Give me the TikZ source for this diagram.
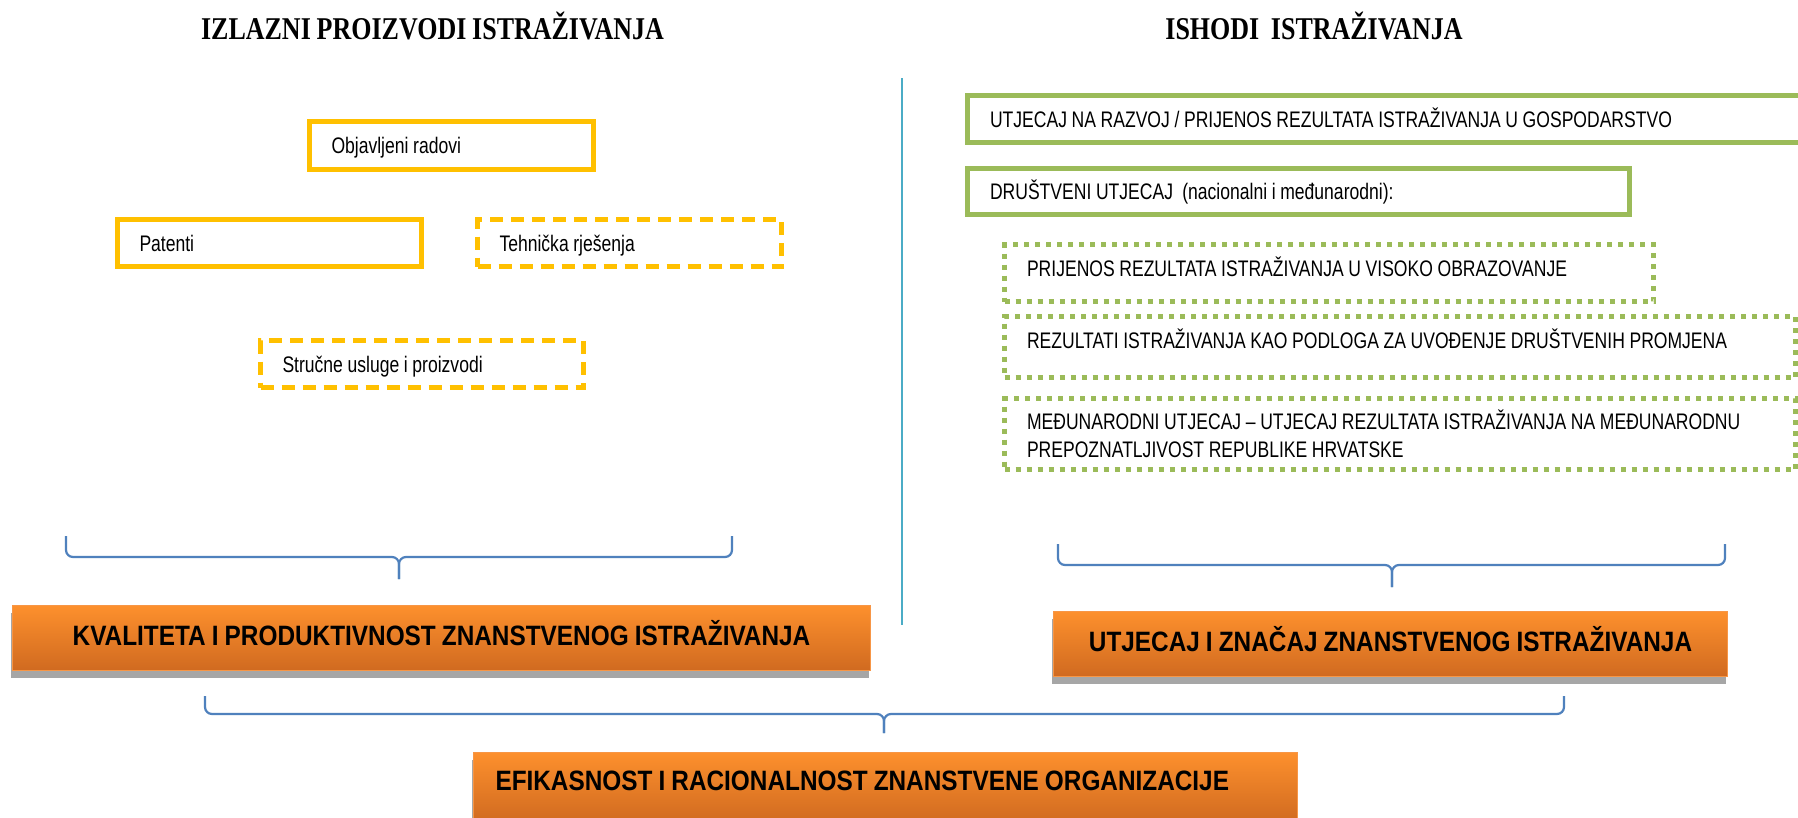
\documentclass[tikz,border=0pt]{standalone}
\usepackage{fontspec}
\usetikzlibrary{shadows}
\newfontfamily\boxfont[FakeStretch=0.78,WordSpace=0.95]{Liberation Sans}
\newfontfamily\bandfont[FakeStretch=0.87,WordSpace=0.9]{Liberation Sans}
\newfontfamily\headfont[FakeStretch=0.82,WordSpace=0.9]{Liberation Serif}
\newcommand{\boxtext}{\boxfont\fontsize{22.5}{28}\selectfont}
\definecolor{gold}{RGB}{255,192,0}
\definecolor{leaf}{RGB}{155,187,89}
\definecolor{bracec}{RGB}{79,129,189}
\definecolor{sepc}{RGB}{75,172,198}
\definecolor{orangetop}{RGB}{253,144,45}
\definecolor{orangemid}{RGB}{242,130,38}
\definecolor{orangebot}{RGB}{208,106,32}
\definecolor{orangeedge}{RGB}{247,150,70}
\definecolor{shadowc}{RGB}{166,166,166}

\tikzset{
	fontspace/.style={execute at begin node={\spaceskip=0pt\relax\xspaceskip=0pt\relax}},
	head/.style={font=\headfont\bfseries\fontsize{31.7}{36}\selectfont, inner sep=0pt, anchor=base},
	goldbox/.style={draw=gold, line width=5pt, anchor=north west, inner xsep=22pt, inner ysep=0pt,
		align=left, fontspace, text height=16pt, text depth=0pt, font=\boxtext},
	leafbox/.style={draw=leaf, line width=5pt, anchor=north west, inner xsep=22.5pt, inner ysep=0pt,
		align=left, fontspace, font=\boxtext},
	oneline/.style={text height=16pt, text depth=#1},
	oneline/.default=0pt,
	dashedline/.style={dash pattern=on 13pt off 8pt},
	dottedline/.style={dash pattern=on 5pt off 6pt},
	band/.style={draw=orangeedge, line width=1pt, anchor=north west, inner sep=0pt,
		top color=orangetop, middle color=orangemid, bottom color=orangebot,
		drop shadow={shadow xshift=-2pt, shadow yshift=-7pt, fill=shadowc, opacity=1},
		font=\bandfont\bfseries\fontsize{28}{30}\selectfont, text height=20pt, text depth=5pt},
	brace/.style={draw=bracec, line width=2.2pt, rounded corners=7pt},
	sepline/.style={draw=sepc, line width=2pt}
}

\begin{document}
\begin{tikzpicture}[x=1pt,y=-1pt]
	\useasboundingbox[fill=white] (0,0) rectangle (1798,817);

	% headings
	\node[head] (outtitle) at (432.5,39) {IZLAZNI PROIZVODI ISTRAŽIVANJA};
	\node[head] (restitle) at (1314,39) {ISHODI\ \ ISTRAŽIVANJA};

	% outputs
	\node[goldbox, text width=240pt, minimum height=48pt] (papers) at (307,119) {Objavljeni radovi};
	\node[goldbox, text width=260pt, minimum height=47pt] (patents) at (115,217) {Patenti};
	\node[goldbox, dashedline, text width=260pt, minimum height=47pt] (tech) at (475,217) {Tehnička rješenja};
	\node[goldbox, dashedline, text width=279pt, minimum height=47pt] (services) at (258,338) {Stručne usluge i proizvodi};

	\coordinate (sep-top) at (902,78);
	\coordinate (sep-bot) at (902,625);
	\draw[sepline] (sep-top) -- (sep-bot);

	% outcomes
	\node[leafbox, oneline, text width=795pt, minimum height=47pt] (economy) at (965,93)
		{UTJECAJ NA RAZVOJ / PRIJENOS REZULTATA ISTRAŽIVANJA U GOSPODARSTVO};
	\node[leafbox, oneline, text width=617pt, minimum height=46pt] (society) at (965,166)
		{DRUŠTVENI UTJECAJ\ \ (nacionalni i međunarodni):};
	\node[leafbox, dottedline, oneline=10pt, text width=604pt, minimum height=57pt] (education) at (1002,242)
		{PRIJENOS REZULTATA ISTRAŽIVANJA U VISOKO OBRAZOVANJE};
	\node[leafbox, dottedline, oneline=14pt, text width=746pt, minimum height=61pt] (change) at (1002,314)
		{REZULTATI ISTRAŽIVANJA KAO PODLOGA ZA UVOĐENJE DRUŠTVENIH PROMJENA};
	\node[leafbox, dottedline, text width=746pt, minimum height=71pt] (world) at (1002,396)
		{MEĐUNARODNI UTJECAJ – UTJECAJ REZULTATA ISTRAŽIVANJA NA MEĐUNARODNU\\
		PREPOZNATLJIVOST REPUBLIKE HRVATSKE};

	% braces
	\coordinate (outbrace-l) at (66,536);
	\coordinate (outbrace-r) at (732,536);
	\coordinate (outbrace-m) at (399,557);
	\coordinate (outbrace-tip) at (399,579);
	\draw[brace] (outbrace-l) |- (outbrace-m) -- (outbrace-tip);
	\draw[brace] (outbrace-r) |- (outbrace-m) -- (outbrace-tip);

	\coordinate (resbrace-l) at (1058,544);
	\coordinate (resbrace-r) at (1725,544);
	\coordinate (resbrace-m) at (1392,565);
	\coordinate (resbrace-tip) at (1392,587);
	\draw[brace] (resbrace-l) |- (resbrace-m) -- (resbrace-tip);
	\draw[brace] (resbrace-r) |- (resbrace-m) -- (resbrace-tip);

	% bands
	\node[band, minimum width=858pt, minimum height=65pt] (quality) at (12,605)
		{KVALITETA I PRODUKTIVNOST ZNANSTVENOG ISTRAŽIVANJA};
	\node[band, minimum width=674pt, minimum height=65pt] (impact) at (1053,611)
		{UTJECAJ I ZNAČAJ ZNANSTVENOG ISTRAŽIVANJA};

	\coordinate (allbrace-l) at (205,696);
	\coordinate (allbrace-r) at (1564,696);
	\coordinate (allbrace-m) at (884,714);
	\coordinate (allbrace-tip) at (884,733);
	\draw[brace] (allbrace-l) |- (allbrace-m) -- (allbrace-tip);
	\draw[brace] (allbrace-r) |- (allbrace-m) -- (allbrace-tip);

	\node[band, text width=780pt, inner xsep=22pt, align=left, fontspace, text depth=14pt, minimum height=70pt] (efficiency) at (473,752)
		{EFIKASNOST I RACIONALNOST ZNANSTVENE ORGANIZACIJE};
\end{tikzpicture}
\end{document}
